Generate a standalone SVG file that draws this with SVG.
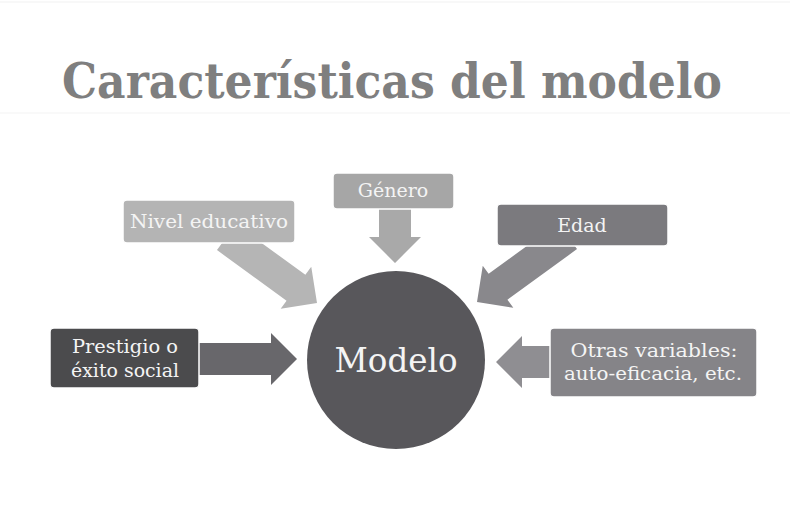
<svg xmlns="http://www.w3.org/2000/svg" width="790" height="523" viewBox="0 0 790 523">
<defs>
<style>
.t{font-family:"DejaVu Serif","Liberation Serif",serif;fill:#f4f4f4;text-anchor:middle}
.box{stroke:#ffffff;stroke-width:1.5}
</style>
<polygon id="arrL" points="-112,-16 -26,-16 -26,-26 0,0 -26,26 -26,16 -112,16"/>
<polygon id="arrS" points="-62,-16 -26,-16 -26,-26 0,0 -26,26 -26,16 -62,16"/>
<polygon id="arrM" points="-100,-16 -26,-16 -26,-26 0,0 -26,26 -26,16 -100,16"/>
</defs>
<rect width="790" height="523" fill="#ffffff"/>
<line x1="0" y1="2" x2="790" y2="2" stroke="#f8f8f8" stroke-width="2"/>
<line x1="0" y1="113" x2="790" y2="113" stroke="#f9f9f9" stroke-width="2"/>
<text x="392" y="98" font-family="DejaVu Serif, Liberation Serif, serif" font-weight="bold" font-size="48" fill="#7f7f7f" text-anchor="middle" textLength="660" lengthAdjust="spacingAndGlyphs">Características del modelo</text>
<g id="connectors">
<use href="#arrL" transform="translate(317,303) rotate(36)" fill="#b5b5b5"/>
<use href="#arrL" transform="translate(477,302) rotate(144)" fill="#89888c"/>
<use href="#arrS" transform="translate(395,263) rotate(90)" fill="#a9a9a9"/>
<use href="#arrM" transform="translate(297,359)" fill="#68676b"/>
<use href="#arrS" transform="translate(496,362) rotate(180)" fill="#8f8e92"/>
</g>
<g id="modelo">
<circle cx="396" cy="360" r="89" fill="#58575b"/>
<text class="t" x="396" y="372" font-size="34" textLength="123" lengthAdjust="spacingAndGlyphs">Modelo</text>
</g>
<g id="nivel">
<rect class="box" x="123" y="200" width="172" height="43" rx="4" fill="#b4b4b4"/>
<text class="t" x="209" y="228" font-size="19" textLength="158" lengthAdjust="spacingAndGlyphs">Nivel educativo</text>
</g>
<g id="genero">
<rect class="box" x="333" y="173" width="121" height="36" rx="4" fill="#a6a6a6"/>
<text class="t" x="393" y="197" font-size="19">Género</text>
</g>
<g id="edad">
<rect class="box" x="497" y="204" width="171" height="42" rx="4" fill="#7b7a7e"/>
<text class="t" x="582" y="232" font-size="19">Edad</text>
</g>
<g id="prestigio">
<rect class="box" x="50" y="328" width="149" height="60" rx="4" fill="#4b4b4d"/>
<text class="t" x="125" y="353" font-size="19" textLength="106" lengthAdjust="spacingAndGlyphs">Prestigio o</text>
<text class="t" x="125" y="377" font-size="19" textLength="108" lengthAdjust="spacingAndGlyphs">éxito social</text>
</g>
<g id="otras">
<rect class="box" x="550" y="328" width="207" height="69" rx="4" fill="#858488"/>
<text class="t" x="654" y="357" font-size="19" textLength="167" lengthAdjust="spacingAndGlyphs">Otras variables:</text>
<text class="t" x="653" y="380" font-size="19" textLength="178" lengthAdjust="spacingAndGlyphs">auto-eficacia, etc.</text>
</g>
</svg>
